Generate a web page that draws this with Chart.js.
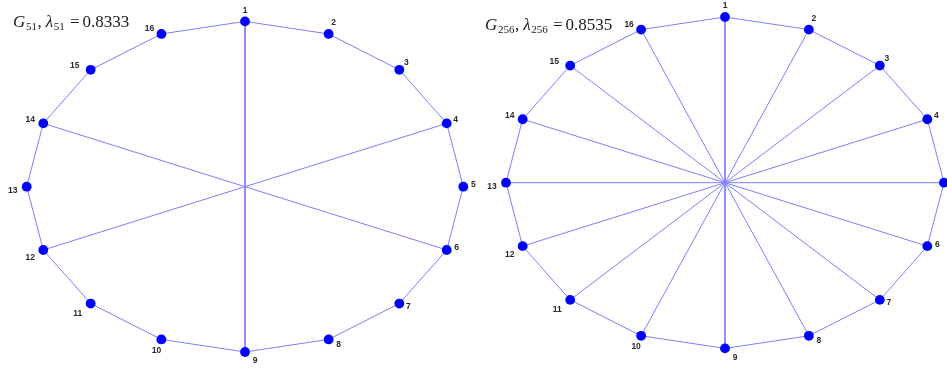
<!DOCTYPE html>
<html>
<head>
<meta charset="utf-8">
<script src="https://cdn.jsdelivr.net/npm/chart.js@4.4.1/dist/chart.umd.min.js"></script>
<style>
  html, body { margin: 0; padding: 0; background: #fff; }
  #wrap { width: 947px; height: 370px; position: relative; }
</style>
</head>
<body>
<div id="wrap"><canvas id="c" width="947" height="370"></canvas></div>
<script>
// Vertex names and their places on the unit circle (vertex 1 at the top, clockwise)
const nodeLabels = ['1','2','3','4','5','6','7','8','9','10','11','12','13','14','15','16'];
const nodeX = [0, 0.383, 0.707, 0.924, 1, 0.924, 0.707, 0.383, 0, -0.383, -0.707, -0.924, -1, -0.924, -0.707, -0.383];
const nodeY = [1, 0.924, 0.707, 0.383, 0, -0.383, -0.707, -0.924, -1, -0.924, -0.707, -0.383, 0, 0.383, 0.707, 0.924];

// Outer cycle shared by both graphs
const ringOrder = [1,2,3,4,5,6,7,8,9,10,11,12,13,14,15,16,1];

// Extra chords of each graph
const chordsG51 = [[1,9],[4,12],[6,14]];
const chordsG256 = [[1,9],[2,10],[3,11],[4,12],[5,13],[6,14],[7,15],[8,16]];

// Graph names and spectral values shown in the headings
const graphIndex = ['51', '256'];
const lambdaValues = ['0.8333', '0.8535'];

// Styling
const NODE_COLOR = '#0000ff';
const EDGE_COLOR = 'rgb(125,125,255)';
const LABEL_COLOR = '#2a2a2a';
// label offsets (px) from each vertex, in vertex order
const labelDX = [0, 5, 7, 9, 10, 10, 9, 10, 10, -5, -13, -13, -14, -13, -16, -12];
const labelDY = [-11, -11, -7, -4, -2, -2, 3, 5, 9, 11, 10, 8, 4, -4, -4, -5];

function pt(n) { return { x: nodeX[n - 1], y: nodeY[n - 1] }; }

function panelDatasets(chords, xId, yId) {
  const sets = [];
  sets.push({
    data: nodeLabels.map((_, i) => ({ x: nodeX[i], y: nodeY[i] })),
    xAxisID: xId, yAxisID: yId,
    showLine: false,
    pointRadius: 4.9, pointHoverRadius: 4.9,
    pointBackgroundColor: NODE_COLOR, pointBorderWidth: 0,
    order: 0, clip: false
  });
  sets.push({
    data: ringOrder.map(pt),
    xAxisID: xId, yAxisID: yId,
    showLine: true, borderColor: EDGE_COLOR, borderWidth: 1,
    pointRadius: 0, pointHoverRadius: 0, tension: 0,
    order: 1, clip: false
  });
  chords.forEach(([a, b]) => {
    sets.push({
      data: [pt(a), pt(b)],
      xAxisID: xId, yAxisID: yId,
      showLine: true, borderColor: EDGE_COLOR, borderWidth: 1,
      pointRadius: 0, pointHoverRadius: 0,
      order: 1, clip: false
    });
  });
  return sets;
}

// Vertex number labels
const vertexLabels = {
  id: 'vertexLabels',
  afterDatasetsDraw(chart) {
    const ctx = chart.ctx;
    ctx.save();
    ctx.font = 'bold 8.5px "Liberation Sans", Arial, sans-serif';
    ctx.fillStyle = LABEL_COLOR;
    ctx.textAlign = 'center';
    ctx.textBaseline = 'middle';
    [['x', 'y'], ['x2', 'y2']].forEach(([xs, ys]) => {
      const sx = chart.scales[xs], sy = chart.scales[ys];
      nodeLabels.forEach((lab, i) => {
        const px = sx.getPixelForValue(nodeX[i]) + labelDX[i];
        const py = sy.getPixelForValue(nodeY[i]) + labelDY[i];
        ctx.fillText(lab, px, py);
      });
    });
    ctx.restore();
  }
};

// Headings: G_k, λ_k = value
const headings = {
  id: 'headings',
  afterDraw(chart, args, opts) {
    const ctx = chart.ctx;
    ctx.save();
    ctx.fillStyle = '#1a1a1a';
    ctx.textBaseline = 'alphabetic';
    ctx.textAlign = 'left';
    const fam = '"Liberation Serif", "Times New Roman", serif';
    const big = '17px ' + fam;
    const bigI = 'italic 17px ' + fam;
    const small = '11px ' + fam;
    opts.items.forEach((h, k) => {
      let x = h.x;
      const y = h.y;
      const segs = [
        { t: 'G', f: bigI, dy: 0, after: 0.8 },
        { t: graphIndex[k], f: small, dy: 3.5, after: 0.4 },
        { t: ',', f: big, dy: 0, after: 4 },
        { t: 'λ', f: bigI, dy: 0, after: 0.6 },
        { t: graphIndex[k], f: small, dy: 3.5, after: 5.2 },
        { t: '=', f: big, dy: 0, after: 3 },
        { t: lambdaValues[k], f: big, dy: 0, after: 0 }
      ];
      segs.forEach(s => {
        ctx.font = s.f;
        ctx.fillText(s.t, x, y + s.dy);
        x += ctx.measureText(s.t).width + s.after;
      });
    });
    ctx.restore();
  }
};

const hidden = { display: false, grid: { display: false } };

new Chart(document.getElementById('c'), {
  type: 'scatter',
  data: {
    datasets: [
      ...panelDatasets(chordsG51, 'x', 'y'),
      ...panelDatasets(chordsG256, 'x2', 'y2')
    ]
  },
  options: {
    responsive: false,
    animation: false,
    events: [],
    layout: { padding: 0, autoPadding: false },
    plugins: {
      legend: { display: false },
      tooltip: { enabled: false },
      title: { display: false },
      headings: { items: [{ x: 13, y: 26.5 }, { x: 485, y: 29.5 }] }
    },
    scales: {
      x:  { type: 'linear', axis: 'x', ...hidden, min: -1.1223, max: 3.2157 },
      y:  { type: 'linear', axis: 'y', ...hidden, min: -1.109, max: 1.1294 },
      x2: { type: 'linear', axis: 'x', ...hidden, min: -3.3105, max: 1.0137 },
      y2: { type: 'linear', axis: 'y', ...hidden, min: -1.1304, max: 1.1026 }
    }
  },
  plugins: [vertexLabels, headings]
});
</script>
</body>
</html>
